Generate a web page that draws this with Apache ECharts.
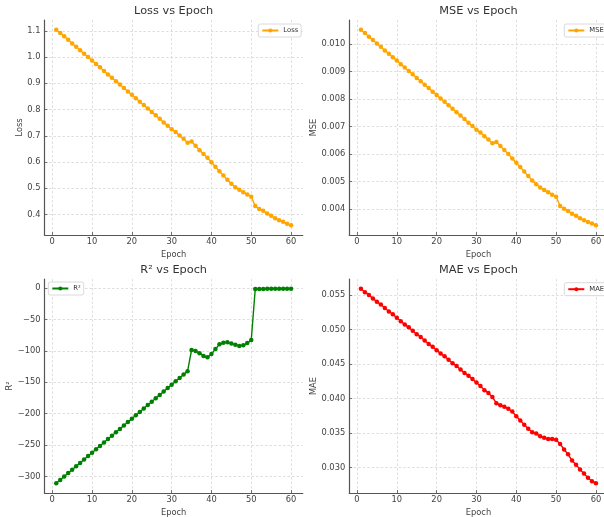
<!DOCTYPE html>
<html>
<head>
<meta charset="utf-8">
<script src="https://cdn.jsdelivr.net/npm/echarts@6/dist/echarts.min.js"></script>
<style>
html,body{margin:0;padding:0;background:#fff;}
#c{width:604px;height:517px;}
</style>
</head>
<body>
<div id="c"></div>
<script>
const epochs = [1,2,3,4,5,6,7,8,9,10,11,12,13,14,15,16,17,18,19,20,21,22,23,24,25,26,27,28,29,30,31,32,33,34,35,36,37,38,39,40,41,42,43,44,45,46,47,48,49,50,51,52,53,54,55,56,57,58,59,60];

const lossValues = [1.104,1.092,1.079,1.066,1.052,1.039,1.026,1.013,1.000,0.987,0.974,0.961,0.947,0.934,0.921,0.908,0.895,0.882,0.869,0.856,0.843,0.830,0.817,0.804,0.791,0.778,0.765,0.751,0.738,0.725,0.714,0.701,0.689,0.673,0.678,0.662,0.645,0.631,0.616,0.599,0.582,0.565,0.549,0.532,0.517,0.504,0.494,0.485,0.476,0.468,0.432,0.421,0.414,0.404,0.395,0.386,0.378,0.372,0.365,0.359];

const mseValues = [0.01052,0.01040,0.01027,0.01015,0.01002,0.00990,0.00977,0.00965,0.00952,0.00940,0.00927,0.00915,0.00902,0.00890,0.00877,0.00865,0.00852,0.00840,0.00827,0.00815,0.00802,0.00790,0.00777,0.00765,0.00752,0.00740,0.00727,0.00714,0.00702,0.00688,0.00678,0.00665,0.00653,0.00639,0.00644,0.00629,0.00615,0.00600,0.00584,0.00568,0.00553,0.00536,0.00520,0.00504,0.00490,0.00478,0.00469,0.00461,0.00452,0.00445,0.00411,0.00401,0.00393,0.00383,0.00375,0.00366,0.00359,0.00353,0.00347,0.00341];

const r2Values = [-311,-305.6,-300.2,-294.8,-289.3,-283.9,-278.5,-273.1,-267.6,-262.2,-256.8,-251.4,-246.0,-240.5,-235.1,-229.7,-224.3,-218.9,-213.4,-208.0,-202.6,-197.2,-191.8,-186.3,-180.9,-175.5,-170.1,-164.7,-159.2,-153.8,-148.4,-143.0,-137.6,-132.2,-98.5,-100,-103.5,-108,-110,-105,-97,-89.5,-87,-86,-88,-90,-92,-91,-87.5,-82.5,-1.2,-1.1,-1.1,-1.0,-1.0,-1.0,-0.9,-0.9,-0.9,-0.8];

const maeValues = [0.0559,0.0554,0.0550,0.0545,0.0540,0.0536,0.0531,0.0526,0.0522,0.0517,0.0512,0.0507,0.0503,0.0498,0.0493,0.0489,0.0484,0.0479,0.0475,0.0470,0.0465,0.0461,0.0456,0.0451,0.0447,0.0442,0.0437,0.0433,0.0428,0.0423,0.0418,0.0412,0.0408,0.0402,0.0393,0.0390,0.0388,0.0385,0.0381,0.0374,0.0368,0.0362,0.0356,0.0351,0.0349,0.0345,0.0343,0.0341,0.0341,0.0340,0.0334,0.0326,0.0319,0.0310,0.0304,0.0297,0.0291,0.0285,0.0280,0.0277];

const epochTicks = [0,10,20,30,40,50,60];
const lossTicks = [0.4,0.5,0.6,0.7,0.8,0.9,1.0,1.1];
const mseTicks = [0.004,0.005,0.006,0.007,0.008,0.009,0.010];
const r2Ticks = [-300,-250,-200,-150,-100,-50,0];
const maeTicks = [0.030,0.035,0.040,0.045,0.050,0.055];

const titles = ['Loss vs Epoch','MSE vs Epoch','R\u00b2 vs Epoch','MAE vs Epoch'];
const seriesNames = ['Loss','MSE','R\u00b2','MAE'];
const yNames = ['Loss','MSE','R\u00b2','MAE'];
const colors = ['#FFA500','#FFA500','#008000','#FF0000'];

const FONT = 'DejaVu Sans';
const axisColor = '#555';
const textColor = '#444';

const grids = [
  {left:44.5, top:20, width:258.3, height:215},
  {left:349.2, top:20, width:258.5, height:215},
  {left:44.5, top:279, width:258.3, height:214},
  {left:349.2, top:279, width:258.5, height:214}
];
const yRanges = [[0.3218,1.1413],[0.003054,0.010876],[-326.5,14.7],[0.02629,0.05731]];
const yTickSets = [lossTicks, mseTicks, r2Ticks, maeTicks];
const yFormat = [
  v => v.toFixed(1),
  v => v.toFixed(3),
  v => (v < 0 ? '\u2212' + Math.abs(v) : String(v)),
  v => v.toFixed(3)
];
const yNameGaps = [19, 29, 30, 29];
const legendPos = [{left:258.3, top:24},{left:564.3, top:24},{left:48.3, top:282},{left:564.3, top:282.7}];
const dataSets = [lossValues, mseValues, r2Values, maeValues];

const splitLineStyle = {show:true, lineStyle:{color:'#d5d5d5', width:0.8, type:[2.5,2]}};

const option = {
  animation:false,
  backgroundColor:'#fff',
  title: grids.map((g,i)=>({
    text:titles[i],
    left:g.left + g.width/2,
    top:i<2?5.5:264.5,
    textAlign:'center',
    padding:0,
    textStyle:{fontFamily:FONT, fontSize:11.3, fontWeight:'normal', color:'#333'}
  })),
  legend: legendPos.map((p,i)=>({
    data:[seriesNames[i]],
    left:p.left, top:p.top,
    orient:'vertical',
    padding:[3,3,3,3],
    itemWidth:16, itemHeight:5,
    backgroundColor:'rgba(255,255,255,0.85)',
    borderColor:'#d0d0d0', borderWidth:0.8, borderRadius:2,
    textStyle:{fontFamily:FONT, fontSize:6.8, color:'#333'}
  })),
  grid: grids.map(g=>Object.assign({containLabel:false, outerBoundsMode:'none'}, g)),
  xAxis: grids.map((g,i)=>({
    type:'value', gridIndex:i, min:-1.95, max:62.95,
    name:'Epoch', nameLocation:'middle', nameGap:15.5,
    nameTextStyle:{fontFamily:FONT, fontSize:8.3, color:textColor},
    axisLine:{show:true, onZero:false, lineStyle:{color:axisColor, width:1.2}},
    axisTick:{show:true, inside:true, length:3, customValues:epochTicks, lineStyle:{color:axisColor, width:0.8}},
    axisLabel:{customValues:epochTicks, margin:3, fontFamily:FONT, fontSize:8.3, color:textColor},
    splitLine:splitLineStyle
  })),
  yAxis: grids.map((g,i)=>({
    type:'value', gridIndex:i, min:yRanges[i][0], max:yRanges[i][1],
    name:yNames[i], nameLocation:'middle', nameGap:yNameGaps[i], nameRotate:90,
    nameTextStyle:{fontFamily:FONT, fontSize:8.3, color:textColor},
    axisLine:{show:true, onZero:false, lineStyle:{color:axisColor, width:1.2}},
    axisTick:{show:true, inside:true, length:3, customValues:yTickSets[i], lineStyle:{color:axisColor, width:0.8}},
    axisLabel:{customValues:yTickSets[i], margin:4, fontFamily:FONT, fontSize:8.3, color:textColor, formatter:yFormat[i]},
    splitLine:splitLineStyle
  })),
  series: dataSets.map((vals,i)=>({
    type:'line', name:seriesNames[i], xAxisIndex:i, yAxisIndex:i,
    data: epochs.map((e,k)=>[e, vals[k]]),
    symbol:'circle', symbolSize:4.5, showSymbol:true,
    lineStyle:{color:colors[i], width:1.4},
    itemStyle:{color:colors[i]},
    emphasis:{disabled:true}
  }))
};

const chart = echarts.init(document.getElementById('c'), null, {renderer:'canvas'});
chart.setOption(option);
</script>
</body>
</html>
